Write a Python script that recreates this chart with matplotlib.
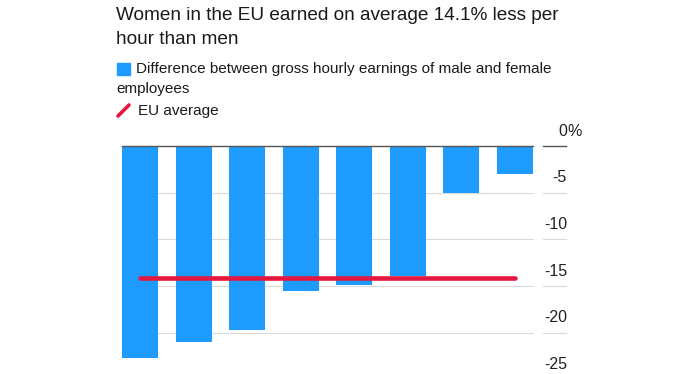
import matplotlib
matplotlib.use("Agg")
import matplotlib.pyplot as plt
import matplotlib.transforms as mtransforms
from matplotlib.patches import Rectangle
from matplotlib.lines import Line2D

plt.rcParams['font.family'] = ['Liberation Sans', 'DejaVu Sans']

# ---- data ----
gaps = [-22.7, -21.0, -19.7, -15.5, -14.9, -13.9, -5.0, -3.0]
eu_average = -14.1
ytick_values = [0, -5, -10, -15, -20, -25]
ytick_labels = ["0", "-5", "-10", "-15", "-20", "-25"]
title_lines = ["Women in the EU earned on average 14.1% less per", "hour than men"]
legend_bar_text = ["Difference between gross hourly earnings of male and female", "employees"]
legend_line_text = "EU average"

BLUE = "#1e9bff"
RED = "#e5173f"
GRID = "#dadada"
ZERO = "#555555"
TEXT = "#1a1a1a"

W, H = 680, 374
fig = plt.figure(figsize=(W / 100, H / 100), dpi=100)
ax = fig.add_axes([122 / W, 0.0, (533 - 122) / W, 1 - 146 / H])

x = list(range(len(gaps)))
ax.bar(x, gaps, width=0.672, color=BLUE, zorder=2)
ax.plot([x[0], x[-1]], [eu_average, eu_average], color=RED, lw=3.3,
        solid_capstyle='round', zorder=4)

ax.set_xlim(-0.336, len(gaps) - 1 + 0.336)
ax.set_ylim(-24.4, 0)
for s in ax.spines.values():
    s.set_visible(False)
ax.set_xticks([])
ax.set_yticks([])

trans = mtransforms.blended_transform_factory(ax.transAxes, ax.transData)
label_off = trans + mtransforms.ScaledTranslation(0, 15 / 100, fig.dpi_scale_trans)
for v, lab in zip(ytick_values, ytick_labels):
    col = ZERO if v == 0 else GRID
    lw = 1.0 if v == 0 else 0.8
    z = 3 if v == 0 else 1
    if v >= ax.get_ylim()[0]:
        ax.plot([0, 1], [v, v], color=col, lw=lw, transform=trans, zorder=z, clip_on=False)
        ax.plot([1.0236, 1.0803], [v, v], color=col, lw=lw, transform=trans, zorder=z,
                clip_on=False)
    ax.text(1.0827, v, lab, transform=label_off, ha='right', va='center',
            fontsize=11.5, color="#222222", clip_on=False)
    if v == 0:
        ax.text(1.0827, v, "%", transform=label_off, ha='left', va='center',
                fontsize=11.5, color="#222222", clip_on=False)

# ---- title ----
fig.text(116 / W, 1 - 15 / H, title_lines[0], fontsize=13.7, color=TEXT, ha='left', va='center')
fig.text(116 / W, 1 - 39 / H, title_lines[1], fontsize=13.7, color=TEXT, ha='left', va='center')

# ---- legend ----
fig.patches.append(Rectangle((117 / W, 1 - 75 / H), 13 / W, 12 / H, transform=fig.transFigure,
                             color=BLUE))
fig.text(136.5 / W, 1 - 69 / H, legend_bar_text[0], fontsize=11, color=TEXT, ha='left', va='center')
fig.text(116 / W, 1 - 89 / H, legend_bar_text[1], fontsize=11, color=TEXT, ha='left', va='center')
fig.lines.append(Line2D([118 / W, 129 / W], [1 - 116 / H, 1 - 105 / H], transform=fig.transFigure,
                        color=RED, lw=2.6, solid_capstyle='round'))
fig.text(138 / W, 1 - 111 / H, legend_line_text, fontsize=11, color=TEXT, ha='left', va='center')

fig.savefig("out.png", dpi=100, facecolor="white")
